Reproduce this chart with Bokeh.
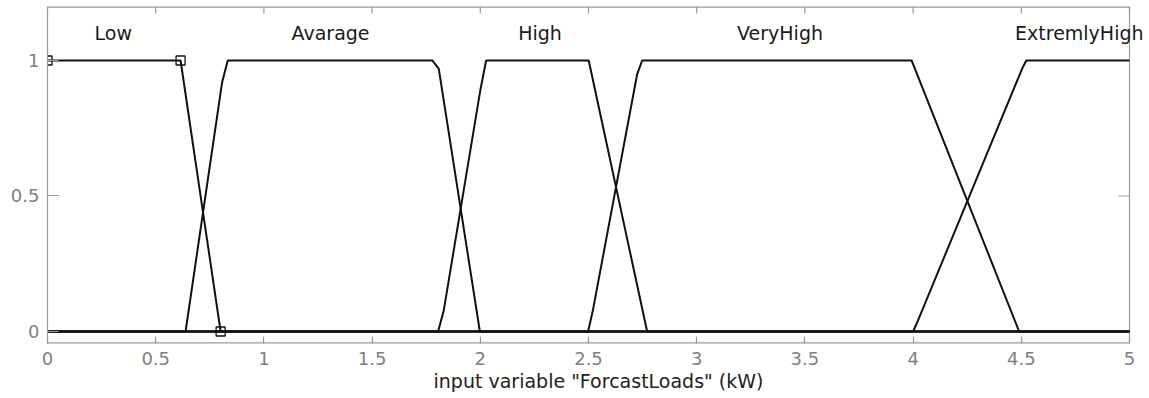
import math
from bokeh.plotting import figure
from bokeh.models import FixedTicker, Range1d, ColumnDataSource, LabelSet
from bokeh.core.properties import value
from bokeh.embed import file_html
from bokeh.resources import INLINE

# ---- data ----
x_ticks = [0, 0.5, 1, 1.5, 2, 2.5, 3, 3.5, 4, 4.5, 5]
x_tick_labels = ["0", "0.5", "1", "1.5", "2", "2.5", "3", "3.5", "4", "4.5", "5"]
y_ticks = [0, 0.5, 1]
y_tick_labels = ["0", "0.5", "1"]

low_x = [0, 0.615, 0.80, 5]
low_y = [1, 1, 0, 0]
avg_x = [0, 0.638, 0.807, 0.833, 1.778, 1.808, 1.998, 5]
avg_y = [0, 0, 0.92, 1, 1, 0.97, 0, 0]
high_x = [0, 1.805, 1.831, 2.0, 2.027, 2.501, 2.771, 5]
high_y = [0, 0, 0.077, 0.89, 1, 1, 0, 0]
vhigh_x = [0, 2.498, 2.52, 2.725, 2.748, 3.993, 4.49, 5]
vhigh_y = [0, 0, 0.077, 0.95, 1, 1, 0, 0]
ehigh_x = [0, 4.0, 4.019, 4.504, 4.523, 5]
ehigh_y = [0, 0, 0.034, 0.97, 1, 1]

marker_x = [0, 0.615, 0.80]
marker_y = [1, 1, 0]

mf_names = ["Low", "Avarage", "High", "VeryHigh", "ExtremlyHigh"]
label_x = [0.304, 1.308, 2.276, 3.385, 4.768]
label_y = [1.074] * 5

x_label = 'input variable "ForcastLoads" (kW)'

FONT = "DejaVu Sans"
GREY = "#9a9a9a"
TICKTXT = "#808080"

# axes box: x from 0 to 5; frame extends a little to the right of it so the
# last membership label is not cut off
X0, X1 = 0, 5
X_VIEW_END = 5.0924
Y0, Y1 = -0.0443, 1.1992

p = figure(width=1149, height=398,
           x_range=Range1d(X0, X_VIEW_END), y_range=Range1d(Y0, Y1),
           output_backend="svg", toolbar_location=None,
           min_border_left=47, min_border_right=0,
           min_border_top=6, min_border_bottom=55)
p.xgrid.visible = False
p.ygrid.visible = False
p.outline_line_color = None
p.background_fill_color = "white"
p.border_fill_color = "white"


def style_axis(ax, ticks, labels, tick_in):
    ax.ticker = FixedTicker(ticks=ticks)
    ax.major_label_overrides = {t: l for t, l in zip(ticks, labels)}
    ax.major_tick_in = tick_in
    ax.major_tick_out = 0
    ax.minor_tick_in = 0
    ax.minor_tick_out = 0
    ax.axis_line_color = GREY
    ax.axis_line_width = 1.2
    ax.major_tick_line_color = GREY
    ax.major_tick_line_width = 1.2
    ax.major_label_text_font = FONT
    ax.major_label_text_font_size = "18px"
    ax.major_label_text_color = TICKTXT


bx = p.xaxis[0]
style_axis(bx, x_ticks, x_tick_labels, 7)
bx.axis_line_color = None
bx.major_label_standoff = 8
bx.axis_label = x_label
bx.axis_label_text_font = FONT
bx.axis_label_text_font_size = "19px"
bx.axis_label_text_font_style = "normal"
bx.axis_label_text_color = "#222222"
bx.axis_label_standoff = 2

ly = p.yaxis[0]
style_axis(ly, y_ticks, y_tick_labels, 11)
ly.major_label_standoff = 8

# box edges: top, bottom and right
p.line([X0, X1], [Y1, Y1], line_color=GREY, line_width=2.4)
p.line([X0, X1], [Y0, Y0], line_color=GREY, line_width=2.4)
p.line([X1, X1], [Y0, Y1], line_color=GREY, line_width=1.2)

# top and right tick marks (inward)
p.ray(x=x_ticks, y=[Y1] * len(x_ticks), length=7, length_units="screen",
      angle=-math.pi / 2, line_color=GREY, line_width=1.2)
p.ray(x=[X1] * len(y_ticks), y=y_ticks, length=11, length_units="screen",
      angle=math.pi, line_color=GREY, line_width=1.2)

LINE = "#111111"
for xs, ys in [(low_x, low_y), (avg_x, avg_y), (high_x, high_y),
               (vhigh_x, vhigh_y), (ehigh_x, ehigh_y)]:
    p.line(xs, ys, line_width=2, line_color=LINE)

p.scatter(marker_x, marker_y, marker="square", size=9,
          fill_color=None, line_color=LINE, line_width=1.3)

src = ColumnDataSource(dict(x=label_x, y=label_y, t=mf_names))
labels = LabelSet(x="x", y="y", text="t", source=src, text_align="center",
                  text_baseline="alphabetic", text_font=value(FONT),
                  text_font_size="19px", text_color="#1a1a1a")
p.add_layout(labels)

open("out.html", "w").write(file_html(p, INLINE))
